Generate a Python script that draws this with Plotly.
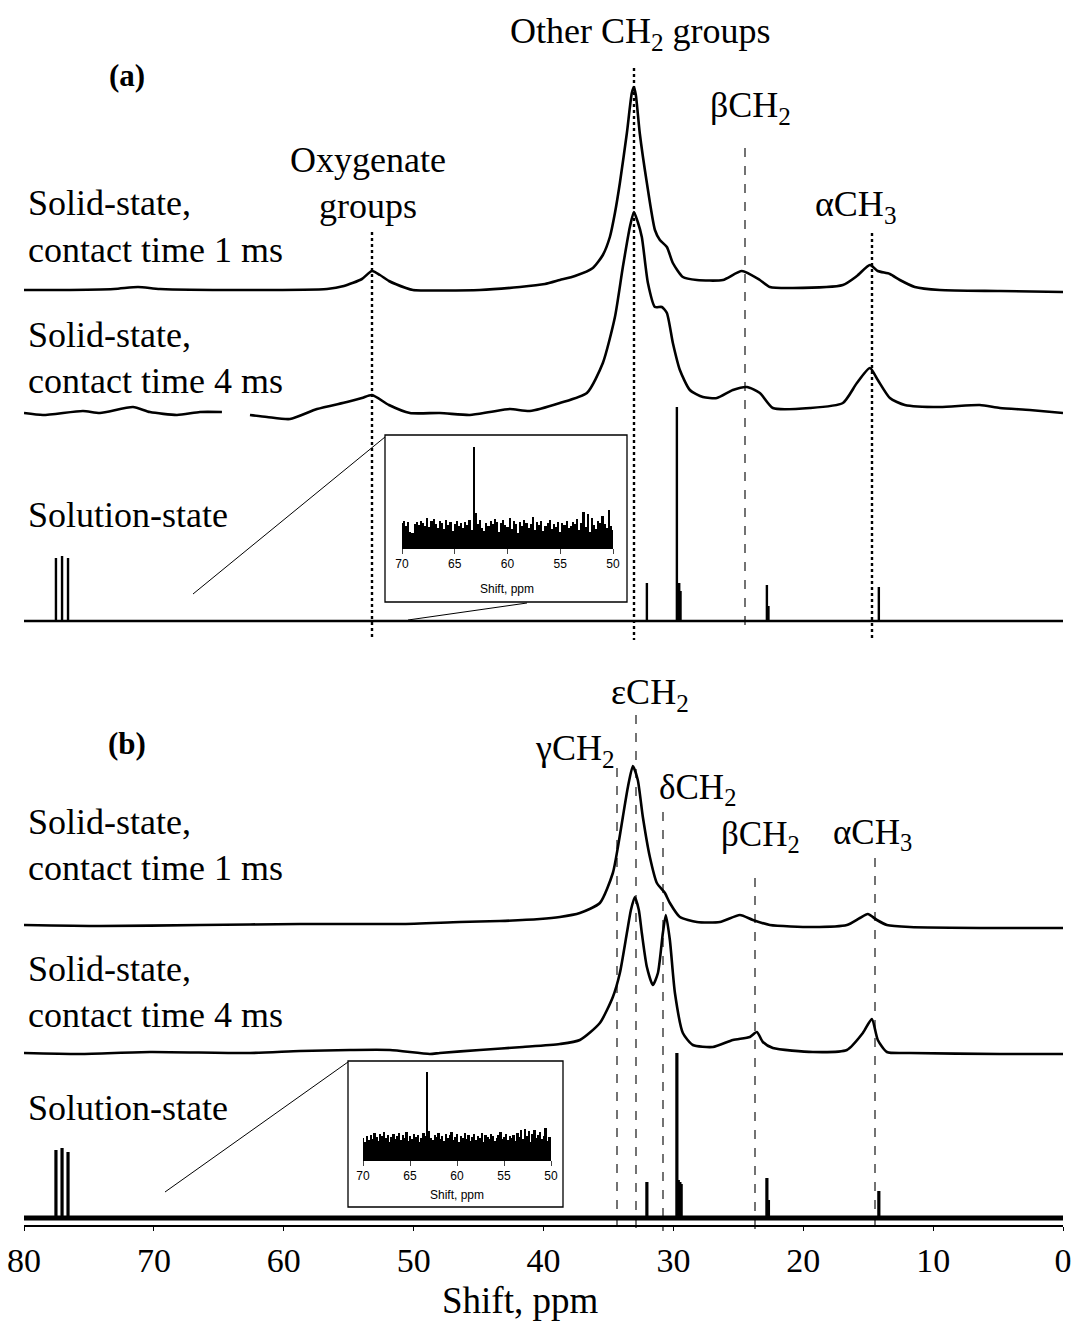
import plotly.graph_objects as go

# ---------------- data (ppm, intensity in arbitrary units) ----------------
a1_ppm = [80.00, 77.23, 73.07, 71.22, 69.53, 62.60, 56.67, 55.37, 53.98, 53.21, 52.59, 51.90, 50.59, 50.05,
          44.90, 41.82, 39.89, 38.74, 37.58, 36.20, 35.43, 34.89, 34.50, 34.12, 33.58, 33.20, 33.04, 32.89,
          32.59, 32.04, 31.42, 31.04, 30.50, 30.04, 29.27, 28.19, 26.19, 24.73, 23.34, 22.57, 20.80, 16.95,
          15.87, 14.87, 14.26, 13.33, 12.56, 11.41, 9.48, 4.86, 0.00]
a1_int = [2, 2, 3, 5, 3, 2, 3, 6, 13, 21, 17, 11, 4, 2,
          2, 5, 8, 12, 16, 24, 37, 55, 79, 109, 159, 199, 205, 197,
          159, 109, 62, 52, 45, 29, 15, 12, 12, 21, 12, 5, 4, 7,
          16, 27, 21, 18, 12, 5, 2, 1, 0]

a2_ppm = [80.00, 78.54, 75.46, 74.15, 71.61, 70.30, 68.22, 66.45, 64.76, None, 62.60, 61.29, 59.52, 57.44,
          55.13, 53.98, 53.21, 51.90, 50.29, 47.98, 45.67, 44.13, 42.59, 41.05, 38.74, 36.66, 35.43, 34.50,
          33.89, 33.35, 33.04, 32.74, 32.43, 31.96, 31.42, 30.89, 30.50, 30.04, 29.50, 28.73, 27.73, 26.65,
          25.42, 24.34, 23.34, 22.34, 19.49, 16.95, 15.87, 14.87, 14.26, 13.33, 12.18, 9.48, 6.41, 4.86,
          2.56, 0.00]
a2_int = [0, -2, 2, 0, 6, 1, -2, 1, 1, None, -2, -4, -6, 4,
          11, 15, 18, 8, 0, 0, -2, 1, 4, 2, 10, 20, 50, 96,
          146, 186, 201, 191, 176, 130, 106, 106, 100, 70, 43, 23, 16, 15,
          23, 26, 20, 5, 5, 10, 30, 45, 33, 15, 8, 6, 8, 5,
          3, 0]

a3_ppm = [77.54, 77.07, 76.61, 32.04, 29.73, 29.55, 29.45, 22.80, 22.68, 14.18]
a3_int = [63, 65, 63, 38, 214, 38, 30, 36, 15, 34]

b1_ppm = [80.00, 74.15, 66.45, 58.75, 51.06, 46.44, 43.36, 40.28, 38.74, 37.20, 35.66, 34.66, 34.27, 33.89,
          33.50, 33.12, 32.74, 32.35, 31.81, 31.27, 30.65, 30.27, 29.50, 28.19, 26.42, 24.88, 23.88, 22.57,
          19.26, 16.64, 15.64, 15.03, 14.33, 13.56, 11.79, 4.86, 0.00]
b1_int = [2, 1, 2, 3, 3, 5, 6, 8, 10, 14, 24, 54, 80, 110,
          140, 161, 147, 110, 70, 44, 34, 24, 10, 5, 5, 12, 7, 2,
          0, 2, 9, 13, 7, 2, 0, -1, -1]

b2_ppm = [80.00, 75.69, 70.30, 62.60, 58.75, 54.90, 51.82, 48.75, 47.98, 44.90, 41.59, 38.74, 37.20, 35.66,
          34.66, 34.12, 33.58, 33.27, 32.97, 32.66, 32.43, 32.04, 31.58, 31.19, 30.81, 30.58, 30.27, 29.88,
          29.27, 28.50, 26.96, 25.42, 24.11, 23.57, 23.11, 22.34, 19.26, 16.64, 15.41, 14.72, 14.26, 13.56,
          11.79, 4.86, 0.00]
b2_int = [0, -1, 1, 0, 2, 3, 3, -1, 0, 3, 6, 9, 13, 30,
          56, 80, 120, 143, 156, 143, 120, 86, 68, 80, 120, 138, 113, 60,
          20, 8, 6, 13, 16, 21, 11, 5, 1, 3, 20, 34, 13, 1,
          0, -1, -1]

b3_ppm = [77.54, 77.07, 76.61, 32.04, 29.73, 29.62, 29.50, 29.40, 22.80, 22.68, 14.18]
b3_int = [68, 70, 66, 36, 165, 38, 36, 34, 40, 18, 27]

inset_ppm = [round(70 - 0.2 * i, 1) for i in range(101)]
noise_a = [25, 27, 22, 26, 16, 15, 24, 26, 23, 27, 25, 22, 30, 21, 27, 29, 24, 20, 27, 25,
           19, 28, 23, 26, 17, 24, 27, 22, 25, 20, 26, 23, 28, 18, 101, 35, 24, 28, 20, 17,
           25, 22, 27, 24, 29, 26, 16, 25, 28, 23, 21, 30, 19, 27, 24, 15, 26, 22, 28, 25,
           20, 24, 31, 18, 26, 23, 27, 17, 22, 25, 28, 19, 24, 21, 26, 16, 25, 23, 27, 20,
           22, 26, 24, 29, 18, 25, 36, 21, 34, 16, 30, 23, 19, 27, 25, 32, 24, 20, 38, 22, 18]
noise_b = [22, 18, 24, 20, 25, 21, 27, 23, 19, 26, 24, 28, 22, 25, 18, 23, 26, 21, 24, 27,
           20, 25, 22, 28, 19, 24, 21, 26, 23, 25, 18, 22, 27, 24, 88, 29, 22, 20, 25, 23,
           27, 21, 24, 19, 26, 22, 25, 28, 20, 23, 26, 18, 24, 22, 27, 21, 25, 19, 23, 26,
           20, 24, 22, 27, 18, 25, 23, 21, 26, 24, 19, 22, 25, 28, 21, 23, 26, 20, 24, 22,
           25, 19, 27, 23, 30, 21, 31, 24, 29, 18, 26, 30, 22, 25, 28, 21, 24, 32, 19, 23, 22]

main_ticks = [80, 70, 60, 50, 40, 30, 20, 10, 0]
inset_ticks = [70, 65, 60, 55, 50]

# ---------------- layout helpers ----------------
W, H = 1081, 1331
L, R = 24, 18
PW = W - L - R


def fx(px):
    return (px - L) / PW


def fy(py):
    return (H - py) / H


def yv(py):
    return H - py


def ppm(px):
    return 80 - (px - L) * 80 / PW


def offset(vals, base_py):
    return [None if v is None else v + yv(base_py) for v in vals]


def sticks(p, h):
    xs, ys = [80], [0]
    for a, b in sorted(zip(p, h), reverse=True):
        xs += [a, a, a]
        ys += [0, b, 0]
    xs.append(0)
    ys.append(0)
    return xs, ys


SERIF = "Liberation Serif"
fig = go.Figure()

spline = dict(shape="spline", smoothing=0.6, color="black", width=2.6)
fig.add_trace(go.Scatter(x=a1_ppm, y=offset(a1_int, 292), mode="lines", line=spline))
fig.add_trace(go.Scatter(x=a2_ppm, y=offset(a2_int, 413), mode="lines", line=spline))
fig.add_trace(go.Scatter(x=b1_ppm, y=offset(b1_int, 927), mode="lines", line=spline))
fig.add_trace(go.Scatter(x=b2_ppm, y=offset(b2_int, 1053), mode="lines", line=spline))

sx, sy = sticks(a3_ppm, a3_int)
fig.add_trace(go.Scatter(x=sx, y=offset(sy, 621), mode="lines", line=dict(color="black", width=2.4)))
sx, sy = sticks(b3_ppm, b3_int)
fig.add_trace(go.Scatter(x=[80, 0], y=offset([0, 0], 1218), mode="lines", line=dict(color="black", width=5)))
fig.add_trace(go.Scatter(x=sx, y=offset(sy, 1218), mode="lines", line=dict(color="black", width=3.2)))

# insets
fig.add_trace(go.Bar(x=inset_ppm, y=noise_a, width=0.2, marker=dict(color="black", line=dict(width=0)),
                     xaxis="x2", yaxis="y2"))
fig.add_trace(go.Bar(x=inset_ppm, y=noise_b, width=0.2, marker=dict(color="black", line=dict(width=0)),
                     xaxis="x3", yaxis="y3"))

shapes = []
# reference lines panel (a)
for px, top, bot, dash, w in [(372, 232, 640, "dot", 2.4), (634, 68, 640, "dot", 2.4),
                              (745, 148, 632, "dash", 1.1), (872, 233, 640, "dot", 2.4)]:
    shapes.append(dict(type="line", xref="x", yref="y", x0=ppm(px), x1=ppm(px), y0=yv(top), y1=yv(bot),
                       line=dict(color="black", width=w, dash=dash)))
# reference lines panel (b)
for px, top in [(617, 768), (636, 715), (663, 812), (755, 878), (875, 858)]:
    shapes.append(dict(type="line", xref="x", yref="y", x0=ppm(px), x1=ppm(px), y0=yv(top), y1=yv(1231),
                       line=dict(color="black", width=1.1, dash="dash")))
# inset boxes
for x0, y0, x1, y1 in [(385, 435, 627, 602), (348, 1061, 563, 1207)]:
    shapes.append(dict(type="rect", xref="paper", yref="paper", x0=fx(x0), x1=fx(x1), y0=fy(y0), y1=fy(y1),
                       line=dict(color="black", width=1.3)))
# connector lines
for x0, y0, x1, y1 in [(193, 594, 385, 437), (408, 620, 527, 603), (165, 1192, 348, 1062)]:
    shapes.append(dict(type="line", xref="paper", yref="paper", x0=fx(x0), x1=fx(x1), y0=fy(y0), y1=fy(y1),
                       line=dict(color="black", width=1)))

ann = []


def text(t, px, py, size=36, xanchor="center", bold=False, font=SERIF):
    ann.append(dict(text=("<b>%s</b>" % t) if bold else t, x=fx(px), y=fy(py), xref="paper", yref="paper",
                    xanchor=xanchor, yanchor="middle", showarrow=False,
                    font=dict(family=font, size=size, color="black")))


text("(a)", 127, 75, size=31, bold=True)
text("(b)", 127, 743, size=31, bold=True)
text("Other CH<sub>2</sub> groups", 640, 33)
text("Oxygenate", 368, 160)
text("groups", 368, 206)
text("βCH<sub>2</sub>", 750, 108)
text("αCH<sub>3</sub>", 855, 206)
text("εCH<sub>2</sub>", 650, 694)
text("γCH<sub>2</sub>", 575, 750)
text("δCH<sub>2</sub>", 697, 789, size=35)
text("βCH<sub>2</sub>", 760, 836, size=35)
text("αCH<sub>3</sub>", 872, 834, size=35)
for line, py in [("Solid-state,", 203), ("contact time 1 ms", 250), ("Solid-state,", 335),
                 ("contact time 4 ms", 381), ("Solution-state", 515),
                 ("Solid-state,", 822), ("contact time 1 ms", 868), ("Solid-state,", 969),
                 ("contact time 4 ms", 1015), ("Solution-state", 1108)]:
    text(line, 26, py, xanchor="left")
text("Shift, ppm", 520, 1300, size=37)
text("Shift, ppm", 507, 589, size=12, font="Arial")
text("Shift, ppm", 457, 1195, size=12, font="Arial")

inset_axis = dict(range=[70, 50], tickvals=inset_ticks, ticks="outside", ticklen=5, tickwidth=1,
                  showline=True, linecolor="black", linewidth=1, showgrid=False, zeroline=False,
                  tickfont=dict(family="Arial", size=12, color="black"))

fig.update_layout(
    width=W, height=H, margin=dict(l=L, r=R, t=0, b=0),
    paper_bgcolor="white", plot_bgcolor="white", showlegend=False, bargap=0,
    xaxis=dict(range=[80, 0], domain=[0, 1], anchor="free", position=fy(1226), tickvals=main_ticks,
               ticks="outside", ticklen=4, tickwidth=1, tickcolor="black", showline=True, linecolor="black",
               linewidth=1.5, showgrid=False, zeroline=False,
               tickfont=dict(family=SERIF, size=34, color="black")),
    yaxis=dict(range=[0, H], domain=[0, 1], visible=False),
    xaxis2=dict(domain=[fx(402), fx(613)], anchor="y2", **inset_axis),
    yaxis2=dict(domain=[fy(548), fy(438)], range=[0, 110], anchor="x2", visible=False),
    xaxis3=dict(domain=[fx(363), fx(551)], anchor="y3", **inset_axis),
    yaxis3=dict(domain=[fy(1160), fy(1065)], range=[0, 95], anchor="x3", visible=False),
    shapes=shapes, annotations=ann,
)

fig.write_html("out.html")
